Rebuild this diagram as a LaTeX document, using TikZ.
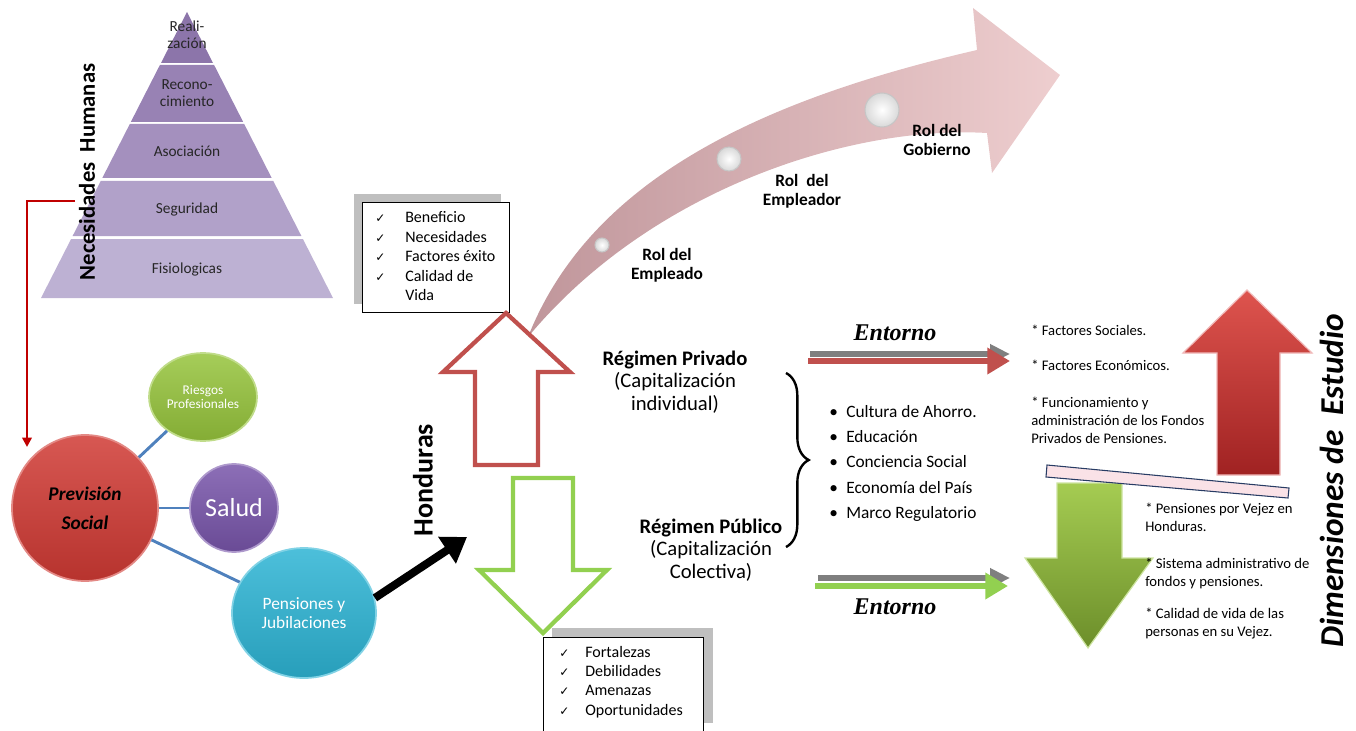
\documentclass[tikz,border=0pt]{standalone}
\usepackage{fontspec}
\setmainfont{Carlito}
\newfontfamily\symfont{DejaVu Sans}
\newfontfamily\entfont{Liberation Serif}
\usetikzlibrary{shapes.geometric,arrows.meta,decorations.pathreplacing,shadings}
\definecolor{pyrA}{RGB}{140,117,170}
\definecolor{pyrB}{RGB}{152,130,180}
\definecolor{pyrC}{RGB}{164,144,190}
\definecolor{pyrD}{RGB}{177,161,201}
\definecolor{pyrE}{RGB}{189,177,211}
\definecolor{conRed}{RGB}{192,0,0}
\definecolor{conBlue}{RGB}{79,129,189}
\definecolor{prevC}{RGB}{208,58,52}
\definecolor{riesC}{RGB}{150,196,60}
\definecolor{saludC}{RGB}{120,85,170}
\definecolor{pensC}{RGB}{45,180,212}
\definecolor{outRed}{RGB}{192,80,77}
\definecolor{outGreen}{RGB}{146,208,80}
\definecolor{shadowGray}{RGB}{191,191,191}
\definecolor{entGray}{RGB}{127,127,127}
\definecolor{pinkDark}{RGB}{192,150,155}
\definecolor{pinkLight}{RGB}{238,206,207}
\definecolor{bigRedTop}{RGB}{222,84,78}
\definecolor{bigRedBot}{RGB}{160,34,34}
\definecolor{bigRedEdge}{RGB}{240,185,185}
\definecolor{bigGrnTop}{RGB}{165,204,82}
\definecolor{bigGrnBot}{RGB}{108,142,42}
\definecolor{bigGrnEdge}{RGB}{205,228,160}
\definecolor{barFill}{RGB}{250,226,231}
\definecolor{barEdge}{RGB}{40,60,100}
\newcommand{\ck}{{\symfont\fontsize{9}{10}\selectfont ✓}}
\tikzset{
  pyrtext/.style={font=\fontsize{11.5}{12.8}\selectfont, text=black!85, align=center, inner sep=0},
  bub/.style={inner sep=0, top color=#1!85!white, bottom color=#1!88!black, draw=#1!60!white, line width=1.3pt},
  blueln/.style={draw=conBlue, line width=2.2pt},
  shadowbox/.style={fill=shadowGray},
  listbox/.style={draw=black, fill=white, line width=0.7pt, anchor=north west, inner sep=0},
  listtext/.style={anchor=base west, inner sep=0, font=\fontsize{12}{14.6}\selectfont},
  roltext/.style={align=center, font=\bfseries\fontsize{13}{14.5}\selectfont, inner sep=0},
  regtext/.style={align=center, font=\fontsize{15.5}{17}\selectfont, inner sep=0},
  sidetext/.style={anchor=base west, inner sep=0, font=\fontsize{11}{13.6}\selectfont},
  enttext/.style={font=\entfont\bfseries\itshape\fontsize{18}{20}\selectfont, inner sep=0},
  orb/.style={circle, inner sep=0, inner color=white, outer color=gray!30, draw=gray!45, line width=0.8pt}
}
\begin{document}
\begin{tikzpicture}[x=0.75pt,y=-0.75pt]
\useasboundingbox (0,0) rectangle (1356,731);

% ---------- Pyramid ----------
\fill[pyrA] (187,12) -- (213,63) -- (161,63) -- cycle;
\fill[pyrB] (159.9,65) -- (214.1,65) -- (243.2,122) -- (130.8,122) -- cycle;
\fill[pyrC] (129.8,124) -- (244.2,124) -- (271.7,178) -- (102.3,178) -- cycle;
\fill[pyrD] (100.7,181) -- (273.3,181) -- (301.4,236) -- (72.6,236) -- cycle;
\fill[pyrE] (71.1,239) -- (302.9,239) -- (333,298) -- (41,298) -- cycle;
\node[pyrtext] (p1) at (187,35) {Reali-\\zación};
\node[pyrtext] (p2) at (187,93) {Recono-\\cimiento};
\node[pyrtext] (p3) at (187,151) {Asociación};
\node[pyrtext] (p4) at (187,209) {Seguridad};
\node[pyrtext] (p5) at (187,269) {Fisiologicas};
\node[rotate=90, inner sep=0, font=\bfseries\fontsize{17}{20}\selectfont] (nh) at (87,172) {Necesidades\ \ Humanas};

% ---------- Circles ----------
\node[bub=prevC, circle, minimum size=109.5pt, align=center,
      font=\bfseries\itshape\fontsize{14.5}{22}\selectfont] (prev) at (85,508) {Previsión\\Social};
\node[bub=riesC, ellipse, minimum width=81pt, minimum height=66pt, align=center, text=white,
      font=\fontsize{10}{10}\selectfont] (ries) at (203,397) {Riesgos\\Profesionales};
\node[bub=saludC, circle, minimum size=66pt, text=white,
      font=\fontsize{19.5}{22}\selectfont] (salud) at (234,508) {Salud};
\node[bub=pensC, ellipse, minimum width=108pt, minimum height=97.5pt, align=center, text=white,
      font=\fontsize{13}{14.3}\selectfont] (pens) at (304,613) {Pensiones y\\Jubilaciones};
\draw[blueln] (prev) -- (ries);
\draw[blueln] (prev) -- (salud);
\draw[blueln] (prev) -- (pens);

% red connector
\coordinate (nhA) at (75,201);
\coordinate (prevIn) at (27,447);
\draw[conRed, line width=2.2pt, -{Triangle[length=7pt,width=7pt]}] (nhA) -| (prevIn);

% black arrow + Honduras
\coordinate (hondTip) at (467,537);
\draw[black, line width=6pt, -{Triangle[length=18pt,width=23pt]}] (pens.12) -- (hondTip);
\node[rotate=90, inner sep=0, font=\bfseries\fontsize{21}{24}\selectfont] (hond) at (423,480) {Honduras};

% ---------- Curved arrow ----------
\shade[left color=pinkDark, right color=pinkLight]
  (528,337) .. controls (590,180) and (760,100) .. (977,50) -- (973,8) -- (1060,75) -- (992,173) -- (987,133)
  .. controls (850,125) and (650,190) .. (528,337) -- cycle;
\node[orb, minimum size=10.5pt] (b1) at (602,245) {};
\node[orb, minimum size=18pt] (b2) at (729,159) {};
\node[orb, minimum size=25.5pt] (b3) at (882,110) {};
\node[roltext] (rol1) at (667,265) {Rol del\\Empleado};
\node[roltext] (rol2) at (802,191) {Rol\ \ del\\Empleador};
\node[roltext] (rol3) at (937,140) {Rol del\\Gobierno};

% ---------- Box 1 ----------
\fill[shadowbox] (354,194) rectangle (501,304);
\node[listbox, minimum width=110.25pt, minimum height=82.5pt] (box1) at (362,202) {};
\node[listtext] (list1) at (375,223) {\begin{tabular}[t]{@{}p{22.5pt}@{}l@{}}
\ck & Beneficio\\ \ck & Necesidades\\ \ck & Factores éxito\\ \ck & Calidad de\\ & Vida\end{tabular}};

% ---------- Outline arrows ----------
\draw[outRed, line width=3.2pt, line join=miter] (506,313) -- (570,372) -- (538,372) -- (538,465) -- (475,465) -- (475,372) -- (443,372) -- cycle;
\draw[outGreen, line width=3.2pt, line join=miter] (513,478) -- (573,478) -- (573,570) -- (607,570) -- (543,633) -- (479,570) -- (513,570) -- cycle;

% ---------- Box 2 ----------
\fill[shadowbox] (552,628) rectangle (713,723);
\node[listbox, minimum width=120pt, minimum height=75pt] (box2) at (543,637) {};
\node[listtext] (list2) at (559,657) {\begin{tabular}[t]{@{}p{19.5pt}@{}l@{}}
\ck & Fortalezas\\ \ck & Debilidades\\ \ck & Amenazas\\ \ck & Oportunidades\end{tabular}};

% ---------- Regimen ----------
\node[regtext] (priv) at (675,382) {\textbf{Régimen Privado}\\(Capitalización\\individual)};
\node[regtext] (publ) at (711,550) {\textbf{Régimen Público}\\(Capitalización\\Colectiva)};

% brace and bullets
\coordinate (brTop) at (786,373);
\coordinate (brBot) at (786,547);
\draw[decorate, decoration={brace, amplitude=17pt}, line width=1.8pt] (brTop) -- (brBot);
\node[anchor=base west, inner sep=0, font=\fontsize{13}{19}\selectfont] (bul) at (829,417)
 {\begin{tabular}[t]{@{}p{12.75pt}@{}l@{}}
 • & Cultura de Ahorro.\\ • & Educación\\ • & Conciencia Social\\ • & Economía del País\\ • & Marco Regulatorio\end{tabular}};

% ---------- Entorno arrows ----------
\coordinate (eg1s) at (810,354); \coordinate (eg1e) at (1010,354);
\coordinate (er1s) at (808,361); \coordinate (er1e) at (1010,361);
\coordinate (eg2s) at (818,578); \coordinate (eg2e) at (1010,578);
\coordinate (en2s) at (815,586); \coordinate (en2e) at (1008,586);
\draw[entGray, line width=4.5pt, -{Triangle[length=15pt,width=14pt]}] (eg1s) -- (eg1e);
\draw[outRed, line width=5.2pt, -{Triangle[length=17pt,width=19pt]}] (er1s) -- (er1e);
\draw[entGray, line width=4.5pt, -{Triangle[length=15pt,width=14pt]}] (eg2s) -- (eg2e);
\draw[outGreen, line width=5.2pt, -{Triangle[length=17pt,width=19pt]}] (en2s) -- (en2e);
\node[enttext] (ent1) at (895,333) {Entorno};
\node[enttext] (ent2) at (895,607) {Entorno};

% ---------- Big arrows ----------
\shade[top color=bigRedTop, bottom color=bigRedBot]
  (1247,290) -- (1312,353) -- (1280,353) -- (1280,475) -- (1217,475) -- (1217,353) -- (1183,353) -- cycle;
\draw[bigRedEdge, line width=0.9pt, line join=miter]
  (1247,290) -- (1312,353) -- (1280,353) -- (1280,475) -- (1217,475) -- (1217,353) -- (1183,353) -- cycle;
\shade[top color=bigGrnTop, bottom color=bigGrnBot]
  (1057,483) -- (1122,483) -- (1122,558) -- (1153,558) -- (1088,648) -- (1025,558) -- (1057,558) -- cycle;
\draw[bigGrnEdge, line width=0.9pt, line join=miter]
  (1057,483) -- (1122,483) -- (1122,558) -- (1153,558) -- (1088,648) -- (1025,558) -- (1057,558) -- cycle;
\filldraw[fill=barFill, draw=barEdge, line width=0.8pt]
  (1047,465) -- (1289,488) -- (1288,498) -- (1046,477) -- cycle;

% ---------- Right column texts ----------
\node[sidetext] (t1) at (1031,335) {* Factores Sociales.};
\node[sidetext] (t2) at (1031,370) {* Factores Económicos.};
\node[sidetext] (t3) at (1031,407) {\begin{tabular}[t]{@{}l@{}}* Funcionamiento y\\administración de los Fondos\\Privados de Pensiones.\end{tabular}};
\node[sidetext] (t4) at (1145,513) {\begin{tabular}[t]{@{}l@{}}* Pensiones por Vejez en\\Honduras.\end{tabular}};
\node[sidetext] (t5) at (1145,568) {\begin{tabular}[t]{@{}l@{}}* Sistema administrativo de\\fondos y pensiones.\end{tabular}};
\node[sidetext] (t6) at (1145,618) {\begin{tabular}[t]{@{}l@{}}* Calidad de vida de las\\personas en su Vejez.\end{tabular}};

\node[rotate=90, inner sep=0, font=\bfseries\itshape\fontsize{25}{30}\selectfont] (dim) at (1332,481) {Dimensiones de\ \ Estudio};
\end{tikzpicture}
\end{document}
